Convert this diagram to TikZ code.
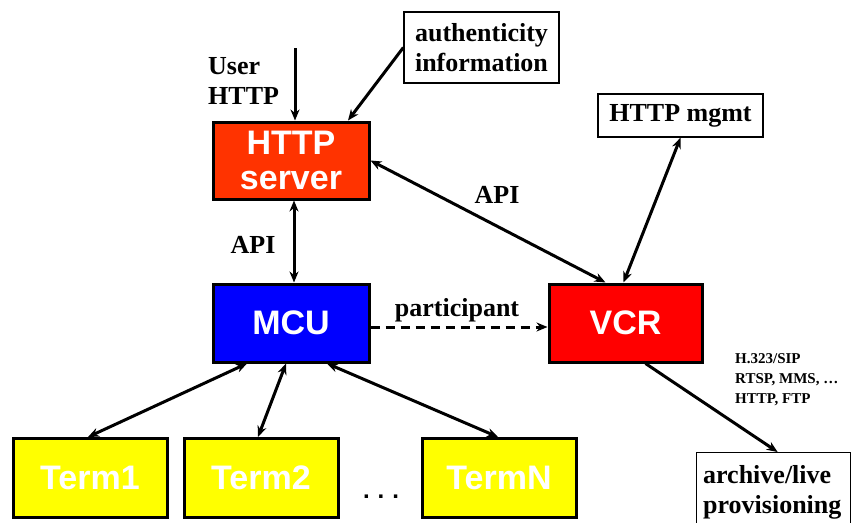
\documentclass[tikz,border=0pt]{standalone}
\usepackage{fontspec}
\setmainfont{Liberation Serif}
\setsansfont{Liberation Sans}
\usetikzlibrary{positioning,arrows.meta}

\definecolor{srvred}{HTML}{FF3300}
\definecolor{mcublue}{HTML}{0000FF}
\definecolor{vcrred}{HTML}{FF0000}
\definecolor{termyellow}{HTML}{FFFF00}

\tikzset{
  unit/.style={rectangle,draw,line width=3pt,minimum width=156pt,minimum height=78pt,
    font=\sffamily\bfseries\fontsize{34}{35}\selectfont,text=white,align=center,inner sep=0pt},
  term/.style={unit,fill=termyellow,minimum width=154pt,minimum height=79pt},
  note/.style={rectangle,draw,line width=1.3pt,font=\bfseries\fontsize{26}{30}\selectfont,align=center},
  lbl/.style={font=\bfseries\fontsize{26}{30}\selectfont,align=left,inner sep=0pt},
  link/.style={line width=3pt,-{Stealth[length=11pt,width=9pt]}},
  both/.style={link,{Stealth[length=11pt,width=9pt]}-{Stealth[length=11pt,width=9pt]}}
}

\begin{document}
\begin{tikzpicture}[x=1pt,y=-1pt]
\clip (0,0) rectangle (851,522);
\useasboundingbox (0,0) rectangle (851,522);
\node[unit,fill=srvred,minimum height=77pt] (http) at (291,160.5) {HTTP\\server};
\node[below=82pt of http,unit,fill=mcublue] (mcu) {MCU};
\node[right=177pt of mcu,unit,fill=vcrred,minimum width=153pt] (vcr) {VCR};
\node[term] (term1) at (90,478) {Term1};
\node[right=14pt of term1,term] (term2) {Term2};
\node[right=81pt of term2,term] (termN) {TermN};
\node[font=\sffamily\bfseries\fontsize{24}{24}\selectfont] (dots) at (381,497) {.\,\,.\,\,.};
\node[note,minimum width=155pt,minimum height=71pt,inner sep=2pt] (auth) at (481.5,47.5) {authenticity\\information};
\node[note,minimum width=165pt,minimum height=43pt,inner sep=0pt] (mgmt) at (680.5,115.5) {HTTP mgmt};
\node[note,anchor=north west,minimum width=154pt,minimum height=80pt,align=left,inner sep=0pt,text width=141pt] (archive) at (696,452) {archive/live\\provisioning};
\coordinate (userin) at (295,48);
\node[lbl,anchor=west] (userlbl) at (208,81) {User\\HTTP};
\draw[link] (userin) -- (userin |- http.north);
\draw[link] (auth.west) -- ([xshift=57pt]http.north);
\draw[both] ([xshift=3pt]http.south) -- ([xshift=3pt]mcu.north);
\node[lbl] (apileft) at (253,245) {API};
\draw[both] (http.east) -- ([xshift=-20pt]vcr.north);
\node[lbl] (apiright) at (497,195) {API};
\draw[both] (mgmt.south) -- ([xshift=-2pt]vcr.north);
\draw[link,dashed,dash pattern=on 9pt off 6pt] ([yshift=-4pt]mcu.east) -- ([yshift=-4pt]vcr.west);
\node[lbl] (partlbl) at (457,310) {participant};
\draw[both] ([xshift=-44pt]mcu.south) -- ([xshift=-2pt]term1.north);
\draw[both] ([xshift=-5pt]mcu.south) -- ([xshift=-3pt]term2.north);
\draw[both] ([xshift=36pt]mcu.south) -- ([xshift=-1pt]termN.north);
\draw[link] ([xshift=20pt]vcr.south) -- ([xshift=4pt]archive.north);
\node[anchor=north west,font=\bfseries\fontsize{15}{20}\selectfont,align=left,inner sep=0pt] (protolbl) at (735,353) {H.323/SIP\\RTSP, MMS, …\\HTTP, FTP};
\end{tikzpicture}
\end{document}
